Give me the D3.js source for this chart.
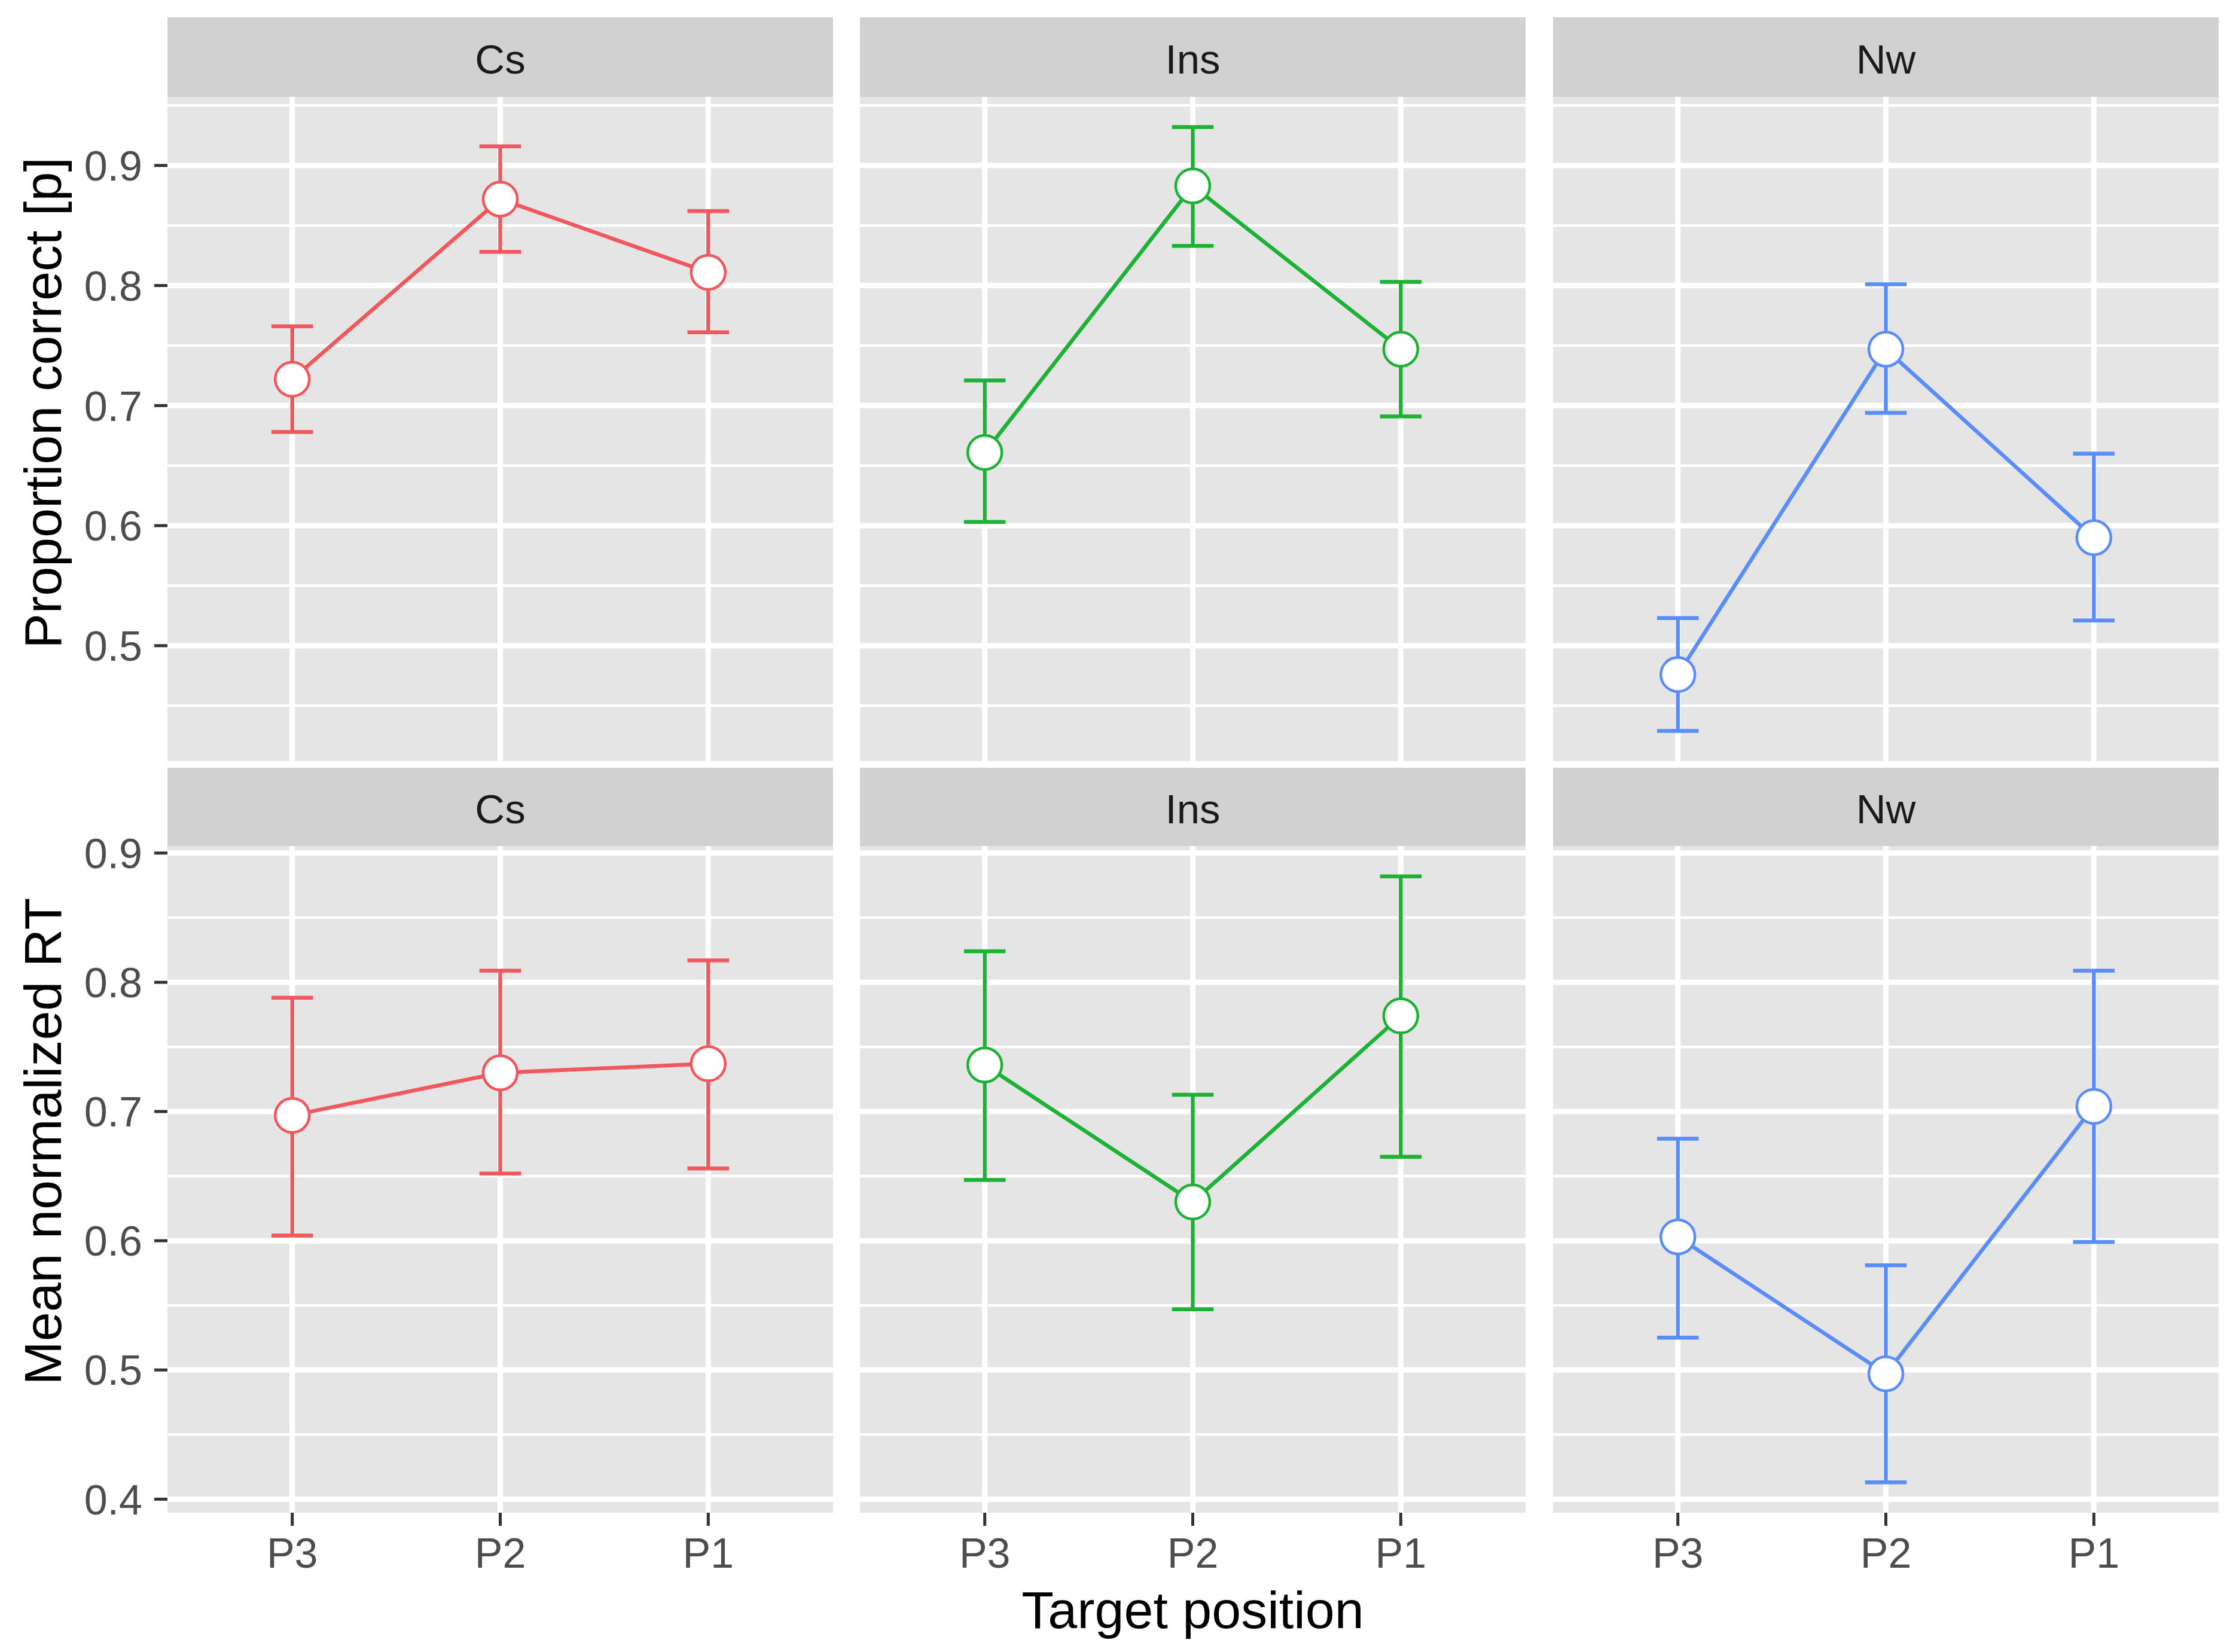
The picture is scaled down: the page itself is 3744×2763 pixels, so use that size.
<!DOCTYPE html>
<html>
<head>
<meta charset="utf-8">
<script src="https://cdn.jsdelivr.net/npm/d3@7"></script>
<style>
  html, body { margin: 0; padding: 0; background: #ffffff; }
  svg { display: block; }
  text { font-family: "Liberation Sans", Arial, Helvetica, sans-serif; }
</style>
</head>
<body>
<svg id="chart" width="3744" height="2763"></svg>
<script>
// ---- data ----
const categories = ["P3", "P2", "P1"];
const conditions = ["Cs", "Ins", "Nw"];
const colors = ["#F0585D", "#1DB236", "#5A8DF7"];

// Proportion correct: rows = conditions (Cs, Ins, Nw), columns = categories (P3, P2, P1)
const accMean = [[0.722, 0.872, 0.811], [0.661, 0.883, 0.747], [0.476, 0.747, 0.590]];
const accLow  = [[0.678, 0.828, 0.761], [0.603, 0.833, 0.691], [0.429, 0.694, 0.521]];
const accHigh = [[0.766, 0.916, 0.862], [0.721, 0.932, 0.803], [0.523, 0.801, 0.660]];

// Mean normalized RT
const rtMean = [[0.697, 0.730, 0.737], [0.736, 0.630, 0.774], [0.603, 0.497, 0.704]];
const rtLow  = [[0.604, 0.652, 0.656], [0.647, 0.547, 0.665], [0.525, 0.413, 0.599]];
const rtHigh = [[0.788, 0.809, 0.817], [0.824, 0.713, 0.882], [0.679, 0.581, 0.809]];

const accTicks = [0.5, 0.6, 0.7, 0.8, 0.9];
const rtTicks = [0.4, 0.5, 0.6, 0.7, 0.8, 0.9];
const accTitle = "Proportion correct [p]";
const rtTitle = "Mean normalized RT";
const xTitle = "Target position";

// ---- layout ----
const svg = d3.select("#chart");
const colX = [280, 1438, 2597];
const panelW = 1113;
const rows = [
  { stripTop: 29, panelTop: 162, panelBottom: 1273, mean: accMean, low: accLow, high: accHigh,
    ticks: accTicks, title: accTitle, titleY: 674, xAxis: false },
  { stripTop: 1284, panelTop: 1415, panelBottom: 2530, mean: rtMean, low: rtLow, high: rtHigh,
    ticks: rtTicks, title: rtTitle, titleY: 1909, xAxis: true }
];

const panelBg = "#E5E5E5";
const stripBg = "#D1D1D1";
const gridMajor = 9, gridMinor = 4.5;
const tickFont = 70, titleFont = 88, stripFont = 69;
const lineW = 6.5;

rows.forEach((row) => {
  const all = row.low.flat().concat(row.high.flat());
  const lo = d3.min(all), hi = d3.max(all);
  const pad = (hi - lo) * 0.05;
  const y = d3.scaleLinear().domain([lo - pad, hi + pad]).range([row.panelBottom, row.panelTop]);
  const dom = y.domain();
  const minorTicks = [];
  for (let i = 0; i < row.ticks.length + 1; i++) {
    const v = row.ticks[0] - 0.05 + i * 0.1;
    if (v >= dom[0] && v <= dom[1]) minorTicks.push(v);
  }

  conditions.forEach((cond, ci) => {
    const x0 = colX[ci];
    const x = d3.scalePoint().domain(categories).range([x0, x0 + panelW]).padding(0.6);
    const g = svg.append("g");

    // strip
    g.append("rect").attr("x", x0).attr("y", row.stripTop)
      .attr("width", panelW).attr("height", row.panelTop - row.stripTop).attr("fill", stripBg);
    g.append("text").attr("x", x0 + panelW / 2).attr("y", (row.stripTop + row.panelTop) / 2 + 27)
      .attr("text-anchor", "middle").attr("font-size", stripFont).attr("fill", "#1A1A1A").text(cond);

    // panel
    g.append("rect").attr("x", x0).attr("y", row.panelTop)
      .attr("width", panelW).attr("height", row.panelBottom - row.panelTop).attr("fill", panelBg);

    g.selectAll(".minor").data(minorTicks).enter().append("line")
      .attr("x1", x0).attr("x2", x0 + panelW)
      .attr("y1", d => y(d)).attr("y2", d => y(d))
      .attr("stroke", "#ffffff").attr("stroke-width", gridMinor);
    g.selectAll(".major").data(row.ticks).enter().append("line")
      .attr("x1", x0).attr("x2", x0 + panelW)
      .attr("y1", d => y(d)).attr("y2", d => y(d))
      .attr("stroke", "#ffffff").attr("stroke-width", gridMajor);
    g.selectAll(".vmajor").data(categories).enter().append("line")
      .attr("x1", d => x(d)).attr("x2", d => x(d))
      .attr("y1", row.panelTop).attr("y2", row.panelBottom)
      .attr("stroke", "#ffffff").attr("stroke-width", gridMajor);

    const pts = categories.map((c, k) => ({
      c, m: row.mean[ci][k], lo: row.low[ci][k], hi: row.high[ci][k]
    }));
    const col = colors[ci];
    const capHalf = x.step() * 0.1;

    // error bars
    const eb = g.selectAll(".eb").data(pts).enter().append("g");
    eb.append("line").attr("x1", d => x(d.c)).attr("x2", d => x(d.c))
      .attr("y1", d => y(d.lo)).attr("y2", d => y(d.hi))
      .attr("stroke", col).attr("stroke-width", lineW);
    eb.append("line").attr("x1", d => x(d.c) - capHalf).attr("x2", d => x(d.c) + capHalf)
      .attr("y1", d => y(d.lo)).attr("y2", d => y(d.lo))
      .attr("stroke", col).attr("stroke-width", lineW);
    eb.append("line").attr("x1", d => x(d.c) - capHalf).attr("x2", d => x(d.c) + capHalf)
      .attr("y1", d => y(d.hi)).attr("y2", d => y(d.hi))
      .attr("stroke", col).attr("stroke-width", lineW);

    // line
    g.append("path").datum(pts)
      .attr("d", d3.line().x(d => x(d.c)).y(d => y(d.m)))
      .attr("fill", "none").attr("stroke", col).attr("stroke-width", lineW);

    // points
    g.selectAll(".pt").data(pts).enter().append("circle")
      .attr("cx", d => x(d.c)).attr("cy", d => y(d.m)).attr("r", 28.5)
      .attr("fill", "#ffffff").attr("stroke", col).attr("stroke-width", 4.5);

    // x axis (bottom row only)
    if (row.xAxis) {
      g.selectAll(".xt").data(categories).enter().append("line")
        .attr("x1", d => x(d)).attr("x2", d => x(d))
        .attr("y1", row.panelBottom).attr("y2", row.panelBottom + 22)
        .attr("stroke", "#333333").attr("stroke-width", 5);
      g.selectAll(".xl").data(categories).enter().append("text")
        .attr("x", d => x(d)).attr("y", row.panelBottom + 92)
        .attr("text-anchor", "middle").attr("font-size", tickFont).attr("fill", "#4D4D4D")
        .text(d => d);
    }
  });

  // y axis on first column
  const ax0 = colX[0];
  const ya = svg.append("g");
  ya.selectAll(".yt").data(row.ticks).enter().append("line")
    .attr("x1", ax0 - 22).attr("x2", ax0)
    .attr("y1", d => y(d)).attr("y2", d => y(d))
    .attr("stroke", "#333333").attr("stroke-width", 5);
  ya.selectAll(".yl").data(row.ticks).enter().append("text")
    .attr("x", ax0 - 42).attr("y", d => y(d)).attr("dy", "0.36em")
    .attr("text-anchor", "end").attr("font-size", tickFont).attr("fill", "#4D4D4D")
    .text(d => d3.format(".1f")(d));
  ya.append("text")
    .attr("transform", `translate(102, ${row.titleY}) rotate(-90)`)
    .attr("text-anchor", "middle").attr("font-size", titleFont).attr("fill", "#000000")
    .text(row.title);
});

// x title
svg.append("text").attr("x", (colX[1] + colX[1] + panelW) / 2).attr("y", 2723)
  .attr("text-anchor", "middle").attr("font-size", titleFont).attr("fill", "#000000")
  .text(xTitle);
</script>
</body>
</html>
